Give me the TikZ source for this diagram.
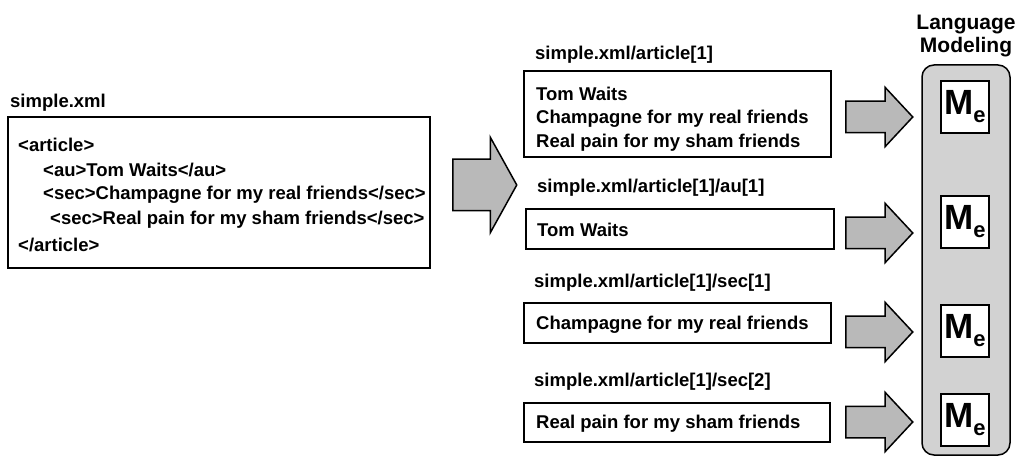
\documentclass[tikz,border=0pt]{standalone}
\usepackage{fontspec}
\setmainfont{Liberation Sans}
\usetikzlibrary{shapes.arrows}

\tikzset{
  txt/.style={anchor=west, inner sep=0pt, font=\bfseries\fontsize{18.5}{21}\selectfont},
  docbox/.style={draw, line width=1.5pt, inner sep=0pt},
  bigarrow/.style={single arrow, draw, line width=1.5pt, fill=gray!55, anchor=tail,
    inner xsep=0pt, inner ysep=25pt, single arrow head extend=22pt,
    single arrow tip angle=122, minimum height=64pt},
  smallarrow/.style={single arrow, draw, line width=1.5pt, fill=gray!55, anchor=tail,
    inner xsep=0pt, inner ysep=15pt, single arrow head extend=14pt,
    single arrow tip angle=94, minimum height=67pt},
  mbox/.style={draw, line width=1.5pt, fill=white, minimum width=48pt, minimum height=52pt, inner sep=0pt},
}
\newcommand{\me}{{\fontsize{35}{35}\selectfont M}\raisebox{-8pt}{\fontsize{22}{22}\selectfont e}}

\begin{document}
\begin{tikzpicture}[x=1pt, y=-1pt, font=\bfseries]
    \useasboundingbox (0,0) rectangle (1021,457);
    % source document
    \node[txt] (srcname) at (10,103) {simple.xml};
    \node[docbox, minimum width=422pt, minimum height=151pt] (src) at (219,192.5) {};
    \node[txt] (l1) at (18,145) {<article>};
    \node[txt] (l2) at (43,170) {<au>Tom Waits</au>};
    \node[txt] (l3) at (43,195) {<sec>Champagne for my real friends</sec>};
    \node[txt] (l4) at (50,220) {<sec>Real pain for my sham friends</sec>};
    \node[txt] (l5) at (18,245) {</article>};
    \node[bigarrow] (split) at (452,185) {};
    % elements
    \node[txt] (p1) at (535,55) {simple.xml/article[1]};
    \node[docbox, minimum width=307pt, minimum height=86pt] (e1) at (677.5,114) {};
    \node[txt] (e1a) at (536,94) {Tom Waits};
    \node[txt] (e1b) at (536,118.5) {Champagne for my real friends};
    \node[txt] (e1c) at (536,143) {Real pain for my sham friends};
    \node[txt] (p2) at (537,188) {simple.xml/article[1]/au[1]};
    \node[docbox, minimum width=308pt, minimum height=40pt] (e2) at (680,229) {};
    \node[txt] (e2a) at (537,230) {Tom Waits};
    \node[txt] (p3) at (534,283) {simple.xml/article[1]/sec[1]};
    \node[docbox, minimum width=307pt, minimum height=40pt] (e3) at (677.5,323) {};
    \node[txt] (e3a) at (536,325) {Champagne for my real friends};
    \node[txt] (p4) at (534,382) {simple.xml/article[1]/sec[2]};
    \node[docbox, minimum width=306pt, minimum height=39pt] (e4) at (677,422.5) {};
    \node[txt] (e4a) at (536,424) {Real pain for my sham friends};
    % language models
    \node[align=center, font=\bfseries\fontsize{21}{23.5}\selectfont] (lmname) at (966,36) {Language\\Modeling};
    \node[draw, line width=1.5pt, rounded corners=12pt, fill=gray!35,
          minimum width=88pt, minimum height=390pt] (lm) at (966,260) {};
    \node[smallarrow] (a1) at (845,117) {};
    \node[smallarrow] (a2) at (845,233) {};
    \node[smallarrow] (a3) at (845,332) {};
    \node[smallarrow] (a4) at (845,422) {};
    \node[mbox] (m1) at (965,107) {\me};
    \node[mbox] (m2) at (965,222) {\me};
    \node[mbox] (m3) at (965,331) {\me};
    \node[mbox] (m4) at (965,420) {\me};
\end{tikzpicture}
\end{document}
